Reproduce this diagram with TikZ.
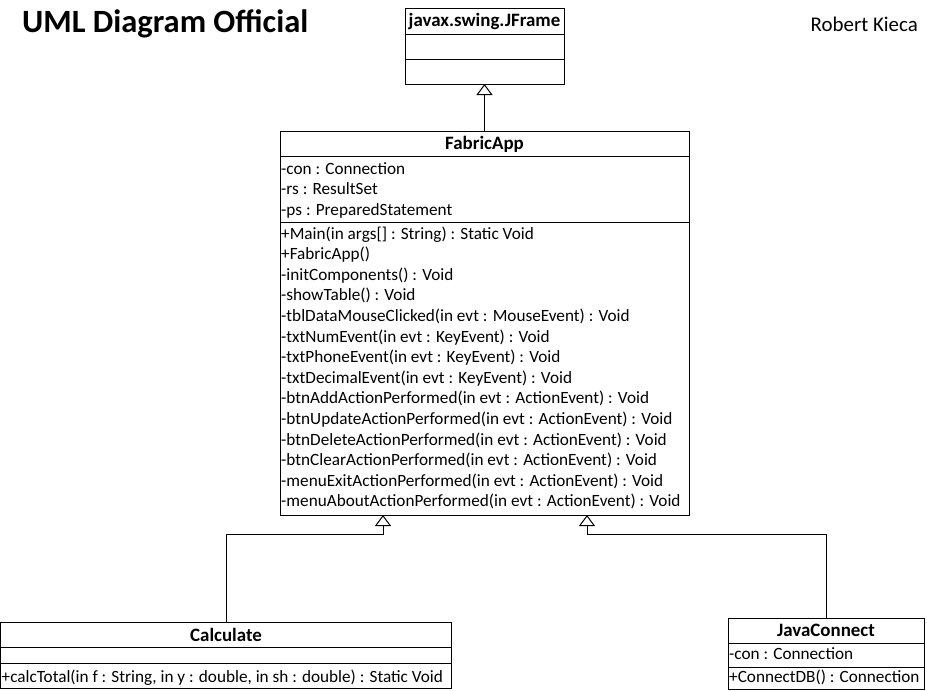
\documentclass[tikz,border=0pt]{standalone}
\usepackage{fontspec}
\setmainfont{Carlito}
\usetikzlibrary{arrows.meta,positioning,calc}

\begin{document}
\begin{tikzpicture}[x=1pt, y=-1pt,
  cls/.style={draw, line width=1pt, inner sep=0pt, outer sep=0pt},
  divider/.style={line width=1pt},
  head/.style={font=\fontsize{18.9}{22}\selectfont\bfseries, inner sep=0pt, anchor=base},
  member/.style={font=\fontsize{17.2}{20}\selectfont, inner sep=0pt, anchor=base west},
  inherit/.style={-{Triangle[open, length=11pt, width=16pt]}, line width=1pt}
]
\useasboundingbox (0,0) rectangle (927,691);

% titles
\node[font=\fontsize{32.5}{36}\selectfont\bfseries, inner sep=0pt, anchor=base west] (title) at (22,32) {UML Diagram Official};
\node[font=\fontsize{20.9}{24}\selectfont, inner sep=0pt, anchor=base east] (author) at (918,31) {Robert Kieca};

% javax.swing.JFrame
\node[cls, minimum width=159pt, minimum height=76pt, anchor=north west] (jframe) at (405,8) {};
\draw[divider] ($(jframe.north west)+(0,26)$) -- ($(jframe.north east)+(0,26)$);
\draw[divider] ($(jframe.north west)+(0,51)$) -- ($(jframe.north east)+(0,51)$);
\node[head] (jframeName) at ($(jframe.north)+(0,18)$) {javax.swing.JFrame};

% FabricApp
\node[cls, minimum width=409pt, minimum height=384pt, below=47pt of jframe] (fabric) {};
\draw[divider] ($(fabric.north west)+(0,25)$) -- ($(fabric.north east)+(0,25)$);
\draw[divider] ($(fabric.north west)+(0,91)$) -- ($(fabric.north east)+(0,91)$);
\node[head] (fabricName) at ($(fabric.north)+(0,18)$) {FabricApp};
\foreach \txt [count=\i from 0] in {-con : Connection, -rs : ResultSet, -ps : PreparedStatement}
  \node[member] (fabricAttr\i) at ($(fabric.north west)+(1,43+20.6*\i)$) {\txt};
\foreach \txt [count=\i from 0] in {
    +Main(in args[] : String) : Static Void,
    +FabricApp(),
    -initComponents() : Void,
    -showTable() : Void,
    -tblDataMouseClicked(in evt : MouseEvent) : Void,
    -txtNumEvent(in evt : KeyEvent) : Void,
    -txtPhoneEvent(in evt : KeyEvent) : Void,
    -txtDecimalEvent(in evt : KeyEvent) : Void,
    -btnAddActionPerformed(in evt : ActionEvent) : Void,
    -btnUpdateActionPerformed(in evt : ActionEvent) : Void,
    -btnDeleteActionPerformed(in evt : ActionEvent) : Void,
    -btnClearActionPerformed(in evt : ActionEvent) : Void,
    -menuExitActionPerformed(in evt : ActionEvent) : Void,
    -menuAboutActionPerformed(in evt : ActionEvent) : Void}
  \node[member] (fabricOp\i) at ($(fabric.north west)+(1,108+20.6*\i)$) {\txt};

% Calculate
\node[cls, minimum width=451pt, minimum height=66pt, anchor=north west] (calc) at (0.5,622) {};
\draw[divider] ($(calc.north west)+(0,25)$) -- ($(calc.north east)+(0,25)$);
\draw[divider] ($(calc.north west)+(0,41)$) -- ($(calc.north east)+(0,41)$);
\node[head] (calcName) at ($(calc.north)+(0,19)$) {Calculate};
\node[member] (calcOp) at ($(calc.north west)+(1,60)$) {+calcTotal(in f : String, in y : double, in sh : double) : Static Void};

% JavaConnect
\node[cls, minimum width=196pt, minimum height=71pt, anchor=north west] (jconnect) at (728,618) {};
\draw[divider] ($(jconnect.north west)+(0,25)$) -- ($(jconnect.north east)+(0,25)$);
\draw[divider] ($(jconnect.north west)+(0,49)$) -- ($(jconnect.north east)+(0,49)$);
\node[head] (jconnectName) at ($(jconnect.north)+(0,18)$) {JavaConnect};
\node[member] (jconnectAttr) at ($(jconnect.north west)+(1,41)$) {-con : Connection};
\node[member] (jconnectOp) at ($(jconnect.north west)+(1,64)$) {+ConnectDB() : Connection};

% generalisation
\coordinate (tipCalc) at ($(fabric.south west)+(103,0)$);
\coordinate (tipConnect) at ($(fabric.south west)+(307,0)$);
\draw[inherit] (fabric.north) -- (jframe.south);
\draw[inherit] (calc.north) -- ++(0,-88) -| (tipCalc);
\draw[inherit] (jconnect.north) -- ++(0,-84) -| (tipConnect);

\end{tikzpicture}
\end{document}
